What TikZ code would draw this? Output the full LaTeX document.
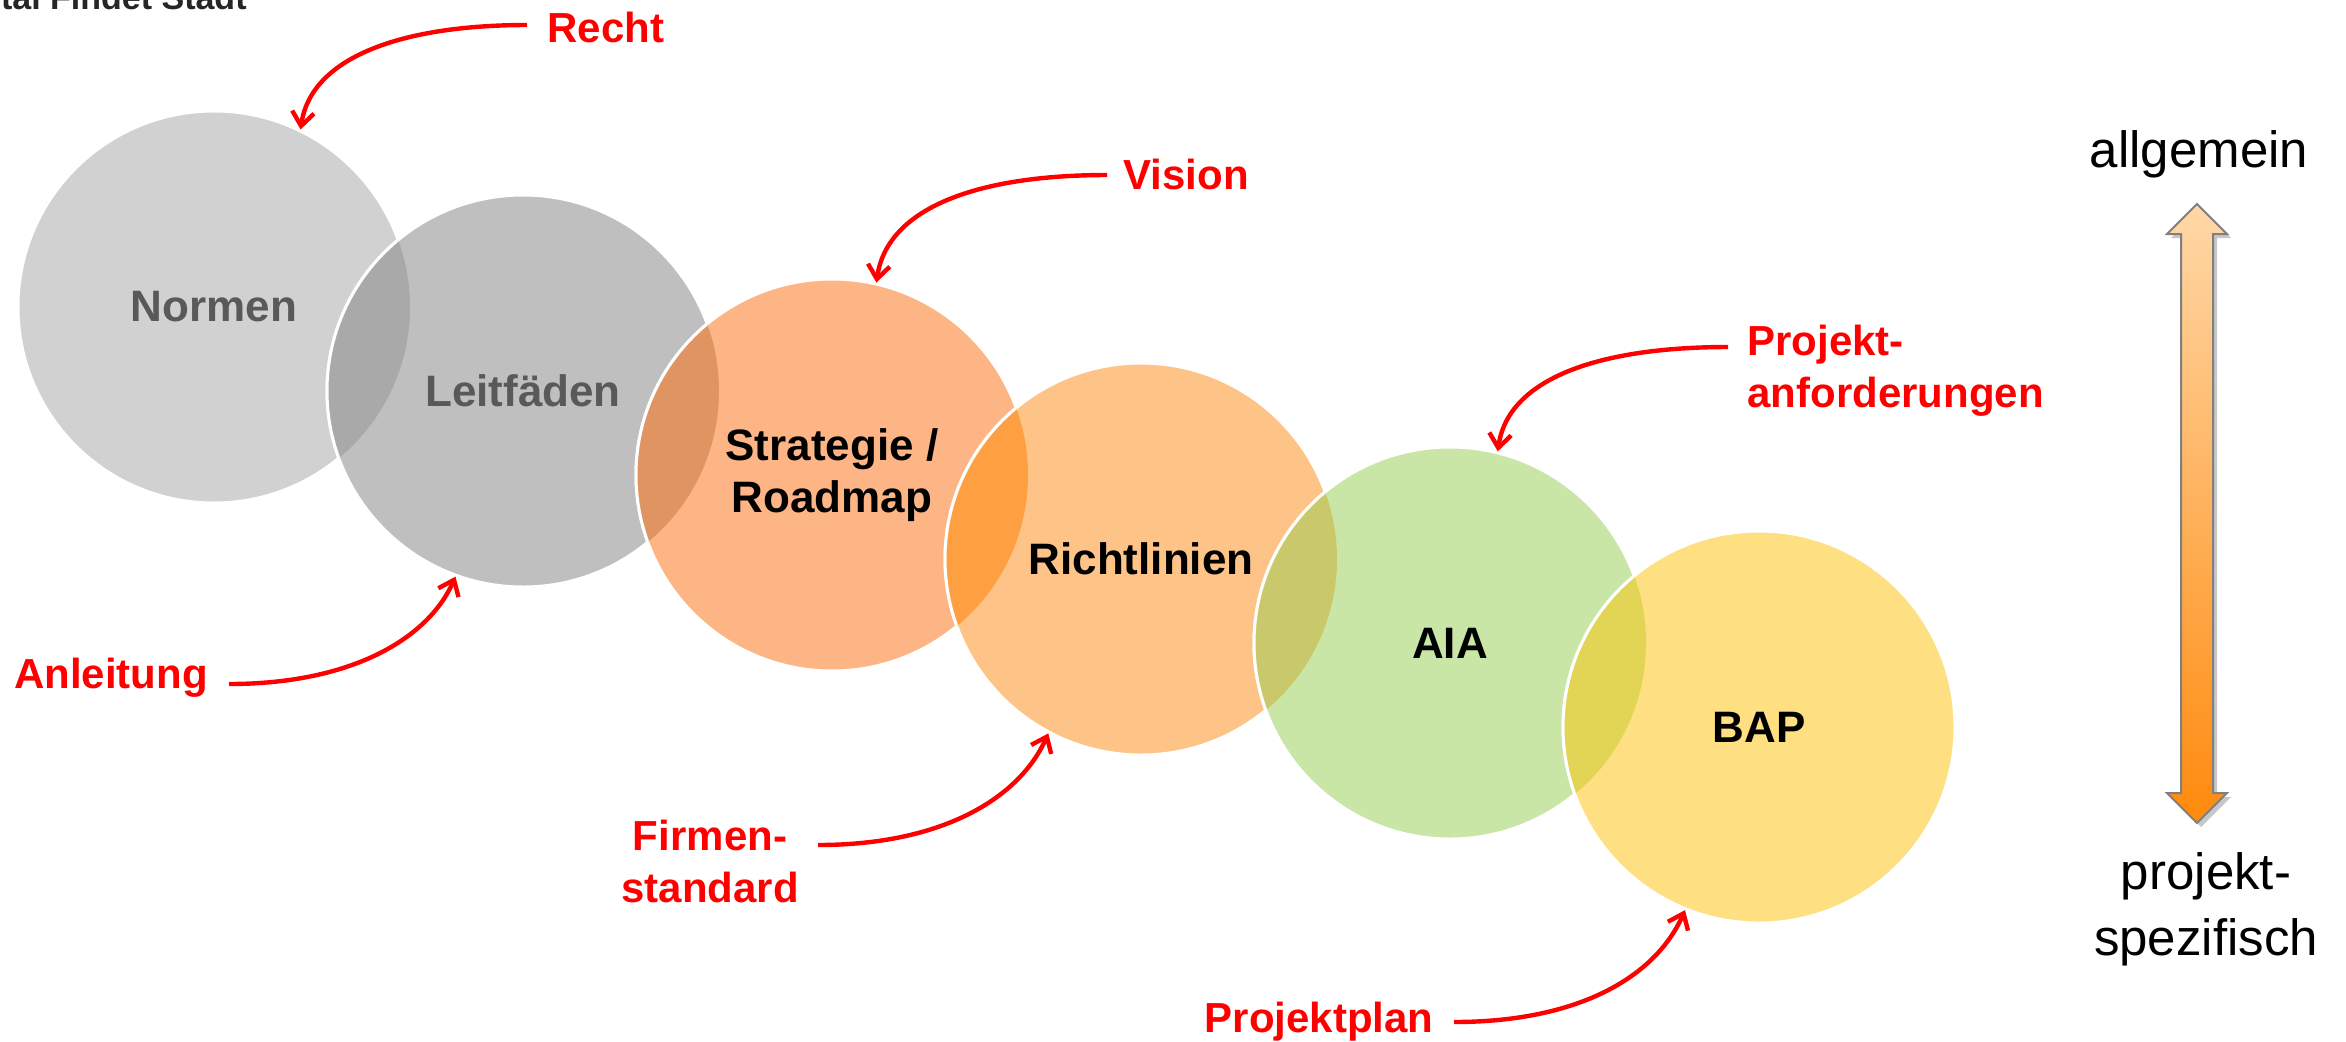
\documentclass[tikz,border=0pt]{standalone}
\usepackage{fontspec}
\setmainfont{Liberation Sans}
\usetikzlibrary{arrows.meta,shadows}
\definecolor{cNormen}{HTML}{D1D1D1}
\definecolor{cLeit}{HTML}{BFBFBF}
\definecolor{ovNL}{HTML}{A9A9A9}
\definecolor{cStrat}{HTML}{FDB585}
\definecolor{ovLS}{HTML}{DF9462}
\definecolor{cRicht}{HTML}{FEC487}
\definecolor{ovSR}{HTML}{FE9F42}
\definecolor{cAIA}{HTML}{C9E6A7}
\definecolor{ovRA}{HTML}{C9C96C}
\definecolor{cBAP}{HTML}{FEDF82}
\definecolor{ovAB}{HTML}{E2D454}
\definecolor{txtgray}{HTML}{595959}
\definecolor{artop}{HTML}{FFD8A8}
\definecolor{arbot}{HTML}{FF8A0D}
\definecolor{arline}{HTML}{7F7F7F}
\tikzset{
  bubble/.style={circle, inner sep=0pt, minimum size=196pt, draw=white, line width=1.5pt},
  lbl/.style={font=\fontsize{22}{26}\selectfont\bfseries, align=center, inner sep=0pt},
  redlbl/.style={text=red, font=\fontsize{21}{26}\selectfont\bfseries, inner sep=0pt},
  sidelbl/.style={font=\fontsize{25.5}{33}\selectfont, align=center, inner sep=0pt},
  redarrow/.style={draw=red, line width=2.2pt, -{Straight Barb[length=7pt,width=11pt,line width=2.2pt]}},
}
\begin{document}
\begin{tikzpicture}[x=0.5pt,y=-0.5pt]
\useasboundingbox (0,0) rectangle (2346,1041);
% top-left cropped text
\node[anchor=base east, inner sep=0pt, text=black!85, font=\fontsize{17}{20}\selectfont\bfseries] (toptext) at (247,9) {tal Findet Stadt};
% circles
\node[bubble, fill=cNormen] (normen) at (214,307) {};
\node[bubble, fill=cLeit]   (leitf)  at (523,391) {};
\node[bubble, fill=cStrat]  (strat)  at (832,475) {};
\node[bubble, fill=cRicht]  (richt)  at (1141,559) {};
\node[bubble, fill=cAIA]    (aia)    at (1450,643) {};
\node[bubble, fill=cBAP]    (bap)    at (1759,727) {};
% overlaps
\foreach \a/\b/\c in {normen/leitf/ovNL, leitf/strat/ovLS, strat/richt/ovSR, richt/aia/ovRA, aia/bap/ovAB}{
  \begin{scope}
    \clip (\a.center) circle (98pt);
    \fill[\c] (\b.center) circle (98pt);
    \draw[white, line width=1.5pt] (\b.center) circle (98pt);
  \end{scope}
}
% labels inside circles
\node[lbl, text=txtgray] (tNormen) at (normen.center) {Normen};
\node[lbl, text=txtgray] (tLeit) at (leitf.center) {Leitfäden};
\node[lbl] (tStrat) at (strat.center) {Strategie /\\Roadmap};
\node[lbl] (tRicht) at (richt.center) {Richtlinien};
\node[lbl] (tAIA) at (aia.center) {AIA};
\node[lbl] (tBAP) at (bap.center) {BAP};
% red labels
\node[redlbl] (lRecht) at (606,27) {Recht};
\node[redlbl] (lVision) at (1186,174) {Vision};
\node[redlbl, align=left, anchor=west] (lProj) at (1747,371) {Projekt-\\anforderungen};
\node[redlbl] (lAnl) at (111,678) {Anleitung};
\node[redlbl, align=center] (lFirm) at (710,861) {Firmen-\\standard};
\node[redlbl] (lPlan) at (1319,1022) {Projektplan};
% arrow start points
\coordinate (sRecht) at (527,25);
\coordinate (sVision) at (1107,175);
\coordinate (sProj) at (1728,347);
\coordinate (sAnl) at (229,684);
\coordinate (sFirm) at (818,845);
\coordinate (sPlan) at (1454,1022);
% red arrows
\draw[redarrow] (sRecht) .. controls (402,25) and (311,57) .. (normen.64);
\draw[redarrow] (sVision) .. controls (979,175) and (887,207) .. (strat.77.5);
\draw[redarrow] (sProj) .. controls (1600,347) and (1508,378) .. (aia.76.7);
\draw[redarrow] (sAnl) .. controls (354,684) and (429,637) .. (leitf.250.5);
\draw[redarrow] (sFirm) .. controls (944,845) and (1020,797) .. (richt.242.3);
\draw[redarrow] (sPlan) .. controls (1580,1022) and (1656,976) .. (bap.248.4);
% right side scale
\node[sidelbl] (allg) at (2199,154) {allgemein};
\node[sidelbl] (spez) at (2206,909) {projekt-\\spezifisch};
\coordinate (atop) at (2197,204);
\coordinate (abot) at (2197,823);
\path[draw=arline, line width=1pt, top color=artop, bottom color=arbot,
  drop shadow={shadow xshift=2pt, shadow yshift=-2pt, opacity=0.22, fill=black}]
  (atop) -- ++(30,30) -- ++(-14,0) -- (2213,793) -- ++(14,0) -- (abot)
  -- ++(-30,-30) -- ++(14,0) -- (2181,234) -- ++(-14,0) -- cycle;
\end{tikzpicture}
\end{document}
